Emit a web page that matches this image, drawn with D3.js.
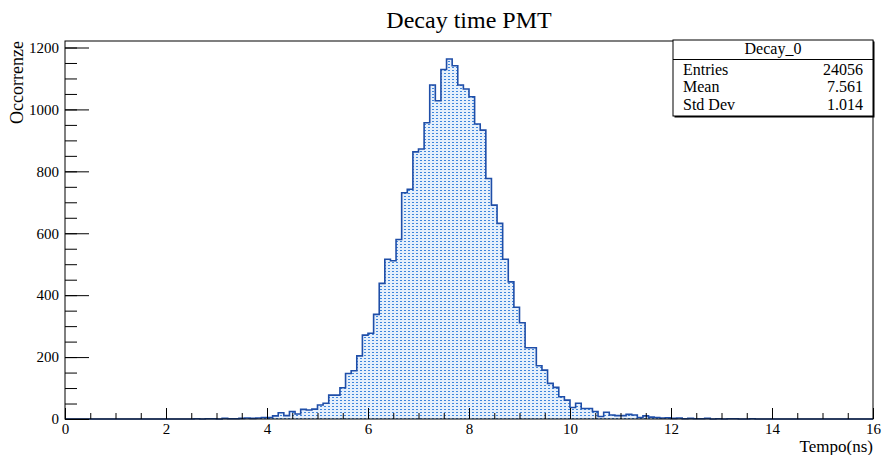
<!DOCTYPE html>
<html>
<head>
<meta charset="utf-8">
<script src="https://cdn.jsdelivr.net/npm/d3@7"></script>
<style>
  body { margin: 0; background: #fff; }
  text { font-family: "Liberation Serif", "DejaVu Serif", serif; fill: #000; }
</style>
</head>
<body>
<div id="chart"></div>
<script>
// histogram Decay_0 : 144 bins between 0 and 16 ns
const xRange = [0, 16];
const counts = [
  0, 0, 0, 0, 0, 0, 0, 0, 0, 0, 0, 0, 0, 0, 0, 0, 0, 0, 0, 0, 0, 0, 0,
  1, 0, 1, 1, 0, 2, 1, 1, 2, 3, 2, 3,
  5, 5, 10, 20, 11, 24, 16, 31, 29, 32, 45, 51, 77, 77,
  101, 147, 156, 204, 271, 277, 338, 438, 516, 511, 580, 731, 742, 863, 872, 957,
  1079, 1028, 1129, 1163, 1141, 1079, 1066, 1041, 953, 933, 777, 691, 632, 516, 443, 361,
  311, 230, 230, 172, 158, 115, 102, 72, 61, 37, 51, 34, 34, 24, 8, 22, 13, 11, 11, 15, 13, 5, 10, 6, 5,
  3, 4, 2, 3, 1, 2, 1, 1, 2, 0, 1, 0, 1, 1, 0, 0, 1, 0, 0,
  0, 0, 0, 0, 0, 0, 0, 0, 0, 0, 0, 0, 0, 0, 0, 0, 0, 0, 0
];
const yMax = 1221;
const xMajor = [0, 2, 4, 6, 8, 10, 12, 14, 16];
const yMajor = [0, 200, 400, 600, 800, 1000, 1200];

const title = "Decay time PMT";
const xTitle = "Tempo(ns)";
const yTitle = "Occorrenze";
const statsName = "Decay_0";
const statsLabels = ["Entries", "Mean", "Std Dev"];
const statsValues = ["24056", "7.561", "1.014"];

const width = 882, height = 455;
const frame = { left: 65, right: 873, top: 41, bottom: 419 };
const lineBlue = "#1f4ea8";

let svg = d3.select("#chart").append("svg")
    .attr("width", width)
    .attr("height", height);

let defs = svg.append("defs");
let pat = defs.append("pattern")
    .attr("id", "dots")
    .attr("patternUnits", "userSpaceOnUse")
    .attr("width", 4)
    .attr("height", 3);
pat.append("rect").attr("width", 4).attr("height", 3).attr("fill", "#e6f0fc");
pat.append("rect").attr("x", 0).attr("y", 1).attr("width", 2).attr("height", 1).attr("fill", "#3f86dc");

let x = d3.scaleLinear().domain(xRange).range([frame.left, frame.right]);
let y = d3.scaleLinear().domain([0, yMax]).range([frame.bottom, frame.top]);

// step outline points: bin low edges plus the last high edge
let binW = (xRange[1] - xRange[0]) / counts.length;
let pts = counts.map((c, i) => [xRange[0] + i * binW, c]);
pts.push([xRange[1], counts[counts.length - 1]]);

let area = d3.area()
    .x((d) => x(d[0]))
    .y0(y(0))
    .y1((d) => y(d[1]))
    .curve(d3.curveStepAfter);

let line = d3.line()
    .x((d) => x(d[0]))
    .y((d) => y(d[1]))
    .curve(d3.curveStepAfter);

svg.append("path")
    .datum(pts)
    .attr("d", area)
    .attr("fill", "url(#dots)");

svg.append("path")
    .datum(pts)
    .attr("d", line)
    .attr("fill", "none")
    .attr("stroke", lineBlue)
    .attr("stroke-width", 1.6);

// frame
svg.append("rect")
    .attr("x", frame.left)
    .attr("y", frame.top)
    .attr("width", frame.right - frame.left)
    .attr("height", frame.bottom - frame.top)
    .attr("fill", "none")
    .attr("stroke", "#000")
    .attr("stroke-width", 1);

// x axis: minor ticks every 0.5, major every 2
let xMinorTicks = d3.range(xRange[0], xRange[1] + 0.001, 0.5);
svg.append("g")
    .attr("transform", `translate(0, ${ frame.bottom })`)
    .call(d3.axisBottom(x).tickValues(xMinorTicks).tickSize(-6).tickFormat(""))
    .call((g) => g.select(".domain").remove());
svg.append("g")
    .attr("transform", `translate(0, ${ frame.bottom })`)
    .call(d3.axisBottom(x).tickValues(xMajor).tickSize(-11).tickPadding(4).tickFormat(d3.format("d")))
    .call((g) => g.select(".domain").remove())
    .call((g) => g.selectAll("text").attr("font-size", 15).attr("font-family", "Liberation Serif"));

// y axis: minor every 50, major every 200
let yMinorTicks = d3.range(0, yMax, 50);
svg.append("g")
    .attr("transform", `translate(${ frame.left }, 0)`)
    .call(d3.axisLeft(y).tickValues(yMinorTicks).tickSize(-12).tickFormat(""))
    .call((g) => g.select(".domain").remove());
svg.append("g")
    .attr("transform", `translate(${ frame.left }, 0)`)
    .call(d3.axisLeft(y).tickValues(yMajor).tickSize(-24).tickPadding(6).tickFormat(d3.format("d")))
    .call((g) => g.select(".domain").remove())
    .call((g) => g.selectAll("text").attr("font-size", 15).attr("font-family", "Liberation Serif"));

svg.selectAll(".tick line").attr("stroke", "#000");

// titles
svg.append("text")
    .attr("x", (frame.left + frame.right) / 2)
    .attr("y", 28)
    .attr("text-anchor", "middle")
    .attr("font-size", 24)
    .text(title);

svg.append("text")
    .attr("x", frame.right)
    .attr("y", 452)
    .attr("text-anchor", "end")
    .attr("font-size", 17)
    .text(xTitle);

svg.append("text")
    .attr("transform", `translate(23, ${ frame.top }) rotate(-90)`)
    .attr("text-anchor", "end")
    .attr("font-size", 18)
    .text(yTitle);

// stats box
let box = { x0: 673, x1: 873, y0: 40, y1: 116, header: 59.5 };
let stats = svg.append("g");
stats.append("rect")
    .attr("x", box.x0 + 1.5)
    .attr("y", box.y0 + 1.5)
    .attr("width", box.x1 - box.x0)
    .attr("height", box.y1 - box.y0)
    .attr("fill", "#000");
stats.append("rect")
    .attr("x", box.x0)
    .attr("y", box.y0)
    .attr("width", box.x1 - box.x0)
    .attr("height", box.y1 - box.y0)
    .attr("fill", "#fff")
    .attr("stroke", "#000")
    .attr("stroke-width", 1);
stats.append("line")
    .attr("x1", box.x0).attr("x2", box.x1)
    .attr("y1", box.header).attr("y2", box.header)
    .attr("stroke", "#000");
stats.append("text")
    .attr("x", (box.x0 + box.x1) / 2)
    .attr("y", 53.5)
    .attr("text-anchor", "middle")
    .attr("font-size", 16)
    .text(statsName);

let rowY = [74.5, 92, 110];
statsLabels.forEach((lab, i) => {
  stats.append("text")
      .attr("x", box.x0 + 10)
      .attr("y", rowY[i])
      .attr("font-size", 16)
      .text(lab);
  stats.append("text")
      .attr("x", box.x1 - 10)
      .attr("y", rowY[i])
      .attr("text-anchor", "end")
      .attr("font-size", 16)
      .text(statsValues[i]);
});
</script>
</body>
</html>
